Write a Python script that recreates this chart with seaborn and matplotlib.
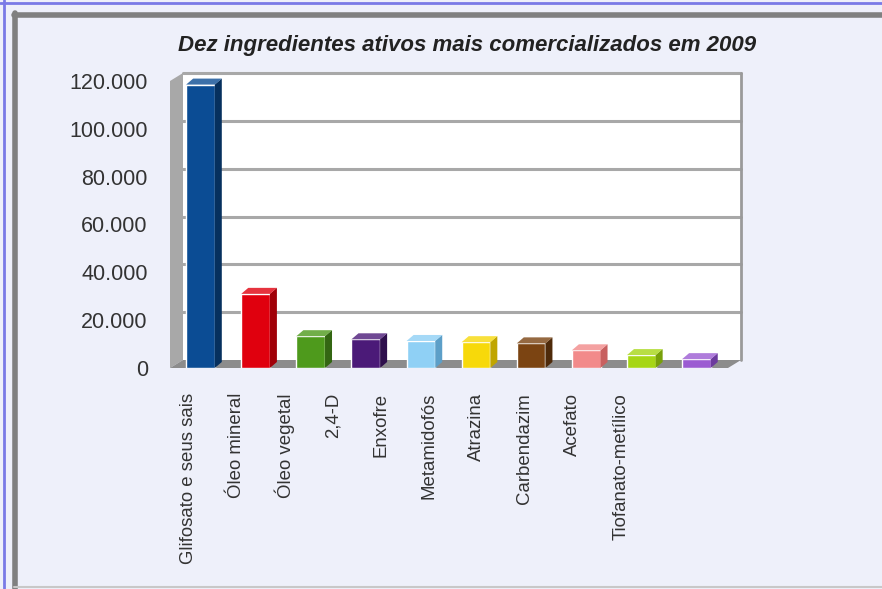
import matplotlib
matplotlib.use("Agg")
import matplotlib.pyplot as plt
import seaborn as sns
import pandas as pd
from matplotlib.patches import Polygon, Rectangle
from matplotlib.lines import Line2D
from matplotlib.transforms import IdentityTransform
from matplotlib.ticker import FuncFormatter

# ---------------- data ----------------
categories = ["Glifosato e seus sais", "Óleo mineral", "Óleo vegetal", "2,4-D",
              "Enxofre", "Metamidofós", "Atrazina", "Carbendazim", "Acefato",
              "Tiofanato-metílico"]
values = [118500, 31000, 13300, 12000, 11300, 10800, 10300, 7400, 5400, 3700]
front_colors = ["#0b4c94", "#e0000e", "#4e9a1c", "#4b1a78", "#8fd0f5",
                "#f7d90a", "#7b4412", "#f28a8a", "#a6d615", "#9b5bd2"]
side_colors = ["#06305e", "#a00008", "#336612", "#2e0f4c", "#5c9fc8",
               "#c0a500", "#4e2a0a", "#c86060", "#78a00a", "#6c3a9e"]
yticks = [0, 20000, 40000, 60000, 80000, 100000, 120000]
title = "Dez ingredientes ativos mais comercializados em 2009"

# ---------------- figure ----------------
W, H = 882, 589
sns.set_theme(style="white")
plt.rcParams["font.family"] = ["Liberation Sans", "DejaVu Sans"]
fig = plt.figure(figsize=(W / 100, H / 100), dpi=100)
fig.patch.set_facecolor("#eef0fa")

# axes in front-face coordinates
ax_l, ax_r, ax_t, ax_b = 170, 728, 81, 368
rect = [ax_l / W, (H - ax_b) / H, (ax_r - ax_l) / W, (ax_b - ax_t) / H]
bg = fig.add_axes(rect, zorder=0)      # holds the 3D walls
ax = fig.add_axes(rect, zorder=5)      # holds the bars
for a_ in (bg, ax):
    a_.set_facecolor("none")
    for s in a_.spines.values():
        s.set_visible(False)
bg.set_xticks([]); bg.set_yticks([])

df = pd.DataFrame({"cat": categories, "val": values})
bar_w = 0.52
sns.barplot(data=df, x="cat", y="val", hue="cat", palette=front_colors,
            legend=False, width=bar_w, saturation=1, ax=ax, zorder=5)
ax.set_xlim(-0.553, 9.573)
ax.set_ylim(0, 120000)
bg.set_xlim(ax.get_xlim()); bg.set_ylim(ax.get_ylim())
ax.set_xlabel("")
ax.set_ylabel("")

# 3D depth (pixels)
wdx, wdy = 13, 8   # wall depth
bdx, bdy = 7, 6    # bar depth
ID = IdentityTransform()

fig.canvas.draw()
td = ax.transData

def D(x, y):
    return td.transform((x, y))

def add(artist, target):
    artist.set_clip_on(False)
    target.add_artist(artist)

x0, x1 = ax.get_xlim()
# back wall
bl = D(x0, 0) + (wdx, wdy)
tr = D(x1, 120000) + (wdx, wdy)
add(Rectangle(bl, tr[0] - bl[0], tr[1] - bl[1], transform=ID,
              facecolor="white", edgecolor="none", zorder=0), bg)
# grid lines on back wall
for v in yticks[1:]:
    a = D(x0, v) + (wdx, wdy)
    b = D(x1, v) + (wdx, wdy)
    add(Line2D([a[0], b[0]], [a[1], b[1]], transform=ID,
               color="#a8a8a8", lw=2.2, zorder=1), bg)
# right edge of back wall
a = D(x1, 0) + (wdx, wdy)
b = D(x1, 120000) + (wdx, wdy)
add(Line2D([a[0], b[0]], [a[1], b[1]], transform=ID, color="#9a9a9a", lw=2, zorder=1), bg)
# left wall
p1 = D(x0, 0); p2 = D(x0, 120000)
add(Polygon([p1, p2, p2 + (wdx, wdy), p1 + (wdx, wdy)], closed=True,
            transform=ID, facecolor="#a8a8a8", edgecolor="none", zorder=2), bg)
# floor
f1 = D(x0, 0); f2 = D(x1, 0)
add(Polygon([f1, f2, f2 + (wdx, wdy), f1 + (wdx, wdy)], closed=True,
            transform=ID, facecolor="#8c8c8c", edgecolor="none", zorder=2), bg)

# bar side and top faces derived from the seaborn bars
for patch, sc, fc in zip(list(ax.patches), side_colors, front_colors):
    bx0 = patch.get_x(); bx1 = bx0 + patch.get_width(); h = patch.get_height()
    pb = D(bx1, 0); pt = D(bx1, h); ptl = D(bx0, h)
    add(Polygon([pb, pt, pt + (bdx, bdy), pb + (bdx, bdy)], closed=True,
                transform=ID, facecolor=sc, edgecolor="none", zorder=6), ax)
    add(Polygon([ptl, pt, pt + (bdx, bdy), ptl + (bdx, bdy)], closed=True,
                transform=ID, facecolor=fc, edgecolor="none", zorder=6, alpha=0.8), ax)

# ticks
ax.set_yticks(yticks)
ax.yaxis.set_major_formatter(FuncFormatter(lambda v, p: f"{int(v):,}".replace(",", ".")))
ax.tick_params(axis="y", length=0, pad=16, labelsize=15.5, labelcolor="#333333")
label_start, label_step = -0.209, 0.871
ax.set_xticks([label_start + label_step * i for i in range(len(categories))])
ax.set_xticklabels(categories, rotation=90, fontsize=13.4, color="#333333")
ax.tick_params(axis="x", length=0, pad=18)

# title
fig.text(467 / W, 1 - 46 / H, title, ha="center", va="center", fontsize=16,
         fontweight="bold", fontstyle="italic", color="#222222")

# frames
fig.lines.append(Line2D([0, W], [H - 3, H - 3], transform=ID, color="#7a7ae6", lw=2))
fig.lines.append(Line2D([4, 4], [0, H], transform=ID, color="#7a7ae6", lw=2))
fig.lines.append(Line2D([14, W], [H - 15, H - 15], transform=ID, color="#808080", lw=4))
fig.lines.append(Line2D([15, 15], [0, H - 13], transform=ID, color="#808080", lw=4))
fig.lines.append(Line2D([14, W], [2, 2], transform=ID, color="#c8c8c8", lw=1.5))

fig.savefig("out.png", dpi=100, facecolor=fig.get_facecolor())
